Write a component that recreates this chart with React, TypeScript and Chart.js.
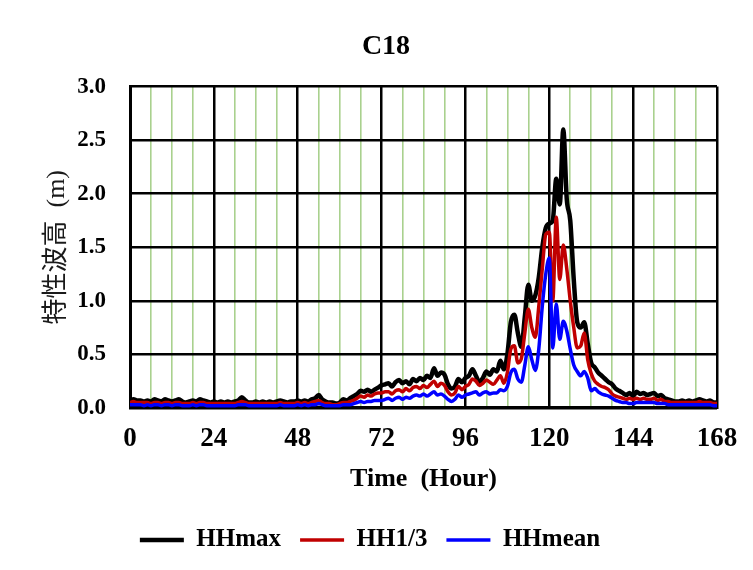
import { useEffect, useRef } from 'react';
import { Chart, registerables } from 'chart.js';

Chart.register(...registerables);

// Hourly time axis, 0–168 h
const hours: number[] = Array.from({ length: 169 }, (_, i) => i);

// Labelled hours on the time axis (minor grid every 6 h)
const majorHours = [0, 24, 48, 72, 96, 120, 144, 168];
const yTickValues = [0, 0.5, 1.0, 1.5, 2.0, 2.5, 3.0];

const hhMax = [
  0.07, 0.08, 0.07, 0.07, 0.06, 0.07, 0.06, 0.08, 0.07, 0.06, 0.08, 0.07, 0.06, 0.07, 0.08, 0.06, 0.05, 0.06, 0.07, 0.06, 0.08, 0.07, 0.06, 0.05,
  0.06, 0.05, 0.06, 0.05, 0.06, 0.05, 0.06, 0.07, 0.10, 0.07, 0.05, 0.05, 0.06, 0.05, 0.06, 0.05, 0.06, 0.05, 0.06, 0.07, 0.06, 0.05, 0.06, 0.06,
  0.07, 0.06, 0.07, 0.06, 0.08, 0.09, 0.12, 0.08, 0.06, 0.05, 0.05, 0.04, 0.05, 0.08, 0.07, 0.09, 0.11, 0.13, 0.16, 0.15, 0.17, 0.15, 0.17, 0.19,
  0.21, 0.22, 0.23, 0.20, 0.24, 0.26, 0.23, 0.25, 0.22, 0.27, 0.25, 0.28, 0.26, 0.30, 0.28, 0.37, 0.30, 0.33, 0.31, 0.22, 0.18, 0.20, 0.27, 0.24,
  0.28, 0.30, 0.36, 0.30, 0.24, 0.28, 0.34, 0.31, 0.36, 0.34, 0.44, 0.36, 0.50, 0.80, 0.87, 0.70, 0.57, 0.85, 1.15, 1.00, 1.05, 1.22, 1.50, 1.68,
  1.72, 1.75, 2.14, 1.90, 2.60, 1.95, 1.75, 1.20, 0.80, 0.75, 0.80, 0.60, 0.42, 0.38, 0.33, 0.30, 0.27, 0.24, 0.22, 0.18, 0.16, 0.14, 0.12, 0.14,
  0.11, 0.15, 0.13, 0.14, 0.12, 0.13, 0.14, 0.11, 0.12, 0.09, 0.08, 0.07, 0.06, 0.06, 0.07, 0.06, 0.07, 0.06, 0.07, 0.08, 0.07, 0.06, 0.07, 0.05, 0.05,
];

const hh13 = [
  0.05, 0.06, 0.05, 0.05, 0.05, 0.05, 0.04, 0.05, 0.05, 0.04, 0.05, 0.05, 0.04, 0.05, 0.05, 0.04, 0.04, 0.04, 0.05, 0.04, 0.05, 0.05, 0.04, 0.04,
  0.04, 0.04, 0.04, 0.04, 0.04, 0.04, 0.04, 0.05, 0.06, 0.05, 0.04, 0.04, 0.04, 0.04, 0.04, 0.04, 0.04, 0.04, 0.04, 0.05, 0.04, 0.04, 0.04, 0.04,
  0.05, 0.04, 0.05, 0.04, 0.05, 0.06, 0.07, 0.05, 0.04, 0.04, 0.03, 0.03, 0.04, 0.05, 0.05, 0.06, 0.07, 0.09, 0.11, 0.10, 0.12, 0.11, 0.13, 0.14,
  0.14, 0.15, 0.15, 0.13, 0.16, 0.17, 0.15, 0.18, 0.16, 0.19, 0.20, 0.18, 0.21, 0.19, 0.22, 0.25, 0.20, 0.23, 0.21, 0.15, 0.12, 0.14, 0.20, 0.17,
  0.20, 0.22, 0.27, 0.25, 0.21, 0.23, 0.26, 0.24, 0.22, 0.26, 0.30, 0.23, 0.33, 0.55, 0.58, 0.42, 0.46, 0.70, 0.92, 0.75, 0.66, 0.95, 1.30, 1.62,
  1.64, 1.00, 1.78, 1.20, 1.52, 1.30, 1.00, 0.75, 0.56, 0.58, 0.70, 0.45, 0.32, 0.25, 0.22, 0.20, 0.19, 0.17, 0.13, 0.11, 0.10, 0.09, 0.08, 0.09,
  0.08, 0.09, 0.08, 0.09, 0.08, 0.08, 0.09, 0.07, 0.08, 0.06, 0.06, 0.05, 0.05, 0.05, 0.05, 0.05, 0.05, 0.05, 0.05, 0.06, 0.05, 0.05, 0.05, 0.04, 0.04,
];

const hhMean = [
  0.03, 0.03, 0.03, 0.03, 0.02, 0.03, 0.02, 0.03, 0.03, 0.02, 0.03, 0.03, 0.02, 0.03, 0.03, 0.02, 0.02, 0.02, 0.03, 0.02, 0.03, 0.03, 0.02, 0.02,
  0.02, 0.02, 0.02, 0.02, 0.02, 0.02, 0.02, 0.03, 0.03, 0.03, 0.02, 0.02, 0.02, 0.02, 0.02, 0.02, 0.02, 0.02, 0.02, 0.03, 0.02, 0.02, 0.02, 0.02,
  0.03, 0.02, 0.03, 0.02, 0.03, 0.03, 0.04, 0.03, 0.02, 0.02, 0.02, 0.02, 0.02, 0.03, 0.03, 0.03, 0.04, 0.05, 0.06, 0.05, 0.06, 0.06, 0.07, 0.07,
  0.07, 0.08, 0.09, 0.07, 0.09, 0.10, 0.08, 0.10, 0.09, 0.11, 0.12, 0.11, 0.13, 0.11, 0.13, 0.15, 0.12, 0.13, 0.11, 0.08, 0.06, 0.08, 0.12, 0.10,
  0.12, 0.13, 0.14, 0.15, 0.12, 0.14, 0.15, 0.13, 0.14, 0.14, 0.17, 0.16, 0.20, 0.33, 0.36, 0.27, 0.24, 0.40, 0.57, 0.45, 0.35, 0.55, 0.95, 1.25,
  1.40, 0.56, 0.97, 0.64, 0.81, 0.72, 0.55, 0.40, 0.34, 0.30, 0.34, 0.28, 0.16, 0.18, 0.15, 0.13, 0.12, 0.11, 0.09, 0.07, 0.06, 0.05, 0.05, 0.04,
  0.04, 0.05, 0.05, 0.05, 0.05, 0.05, 0.05, 0.04, 0.04, 0.04, 0.03, 0.03, 0.03, 0.03, 0.03, 0.03, 0.03, 0.03, 0.03, 0.03, 0.03, 0.03, 0.03, 0.02, 0.02,
];

const SERIF = "'Liberation Serif', 'Times New Roman', serif";
const MINOR_GREEN = '#a9d18e';

const toPoints = (values: number[]) => values.map((y, i) => ({ x: hours[i], y }));

// Nudges the title and legend boxes sideways after layout
const boxOffsets = {
  id: 'boxOffsets',
  afterLayout(chart: any) {
    const title = chart.titleBlock;
    if (title) {
      title.left += 7;
      title.right += 7;
    }
    const legend = chart.legend;
    if (legend) {
      legend.left -= 9;
      legend.right -= 9;
    }
  },
};

export default function App() {
  const canvasRef = useRef<HTMLCanvasElement | null>(null);

  useEffect(() => {
    const canvas = canvasRef.current;
    if (!canvas) return;

    const chart = new Chart(canvas, {
      type: 'line',
      data: {
        datasets: [
          {
            label: 'HHmax',
            data: toPoints(hhMax),
            borderColor: '#000000',
            backgroundColor: '#000000',
            borderWidth: 4.5,
            order: 3,
          },
          {
            label: 'HH1/3',
            data: toPoints(hh13),
            borderColor: '#c00000',
            backgroundColor: '#c00000',
            borderWidth: 3.5,
            order: 2,
          },
          {
            label: 'HHmean',
            data: toPoints(hhMean),
            borderColor: '#0000ff',
            backgroundColor: '#0000ff',
            borderWidth: 3.5,
            order: 1,
          },
        ],
      },
      plugins: [boxOffsets],
      options: {
        responsive: false,
        animation: false,
        events: [],
        elements: {
          point: { radius: 0 },
          line: { cubicInterpolationMode: 'monotone', fill: false },
        },
        layout: { padding: { left: 5, right: 0, top: 0, bottom: 7.5 } },
        plugins: {
          title: {
            display: true,
            text: 'C18',
            color: '#000',
            font: { family: SERIF, size: 28, weight: 'bold' },
            padding: { top: 30, bottom: 23 },
          },
          legend: {
            position: 'bottom',
            labels: {
              usePointStyle: true,
              pointStyle: 'line',
              pointStyleWidth: 44,
              color: '#000',
              font: { family: SERIF, size: 25, weight: 'bold' },
              padding: 19,
              sort: (a: any, b: any) => a.datasetIndex - b.datasetIndex,
            },
          },
          tooltip: { enabled: false },
        },
        scales: {
          x: {
            type: 'linear',
            min: 0,
            max: 168,
            ticks: {
              stepSize: 6,
              autoSkip: false,
              maxRotation: 0,
              padding: 0,
              color: '#000',
              font: { family: SERIF, size: 27, weight: 'bold' },
              callback: (v: any) => (majorHours.includes(Number(v)) ? String(v) : ''),
            },
            grid: {
              drawTicks: true,
              tickLength: 15,
              tickColor: 'rgba(0,0,0,0)',
              color: (ctx: any) => (majorHours.includes(ctx.tick?.value) ? '#000' : MINOR_GREEN),
              lineWidth: (ctx: any) => (majorHours.includes(ctx.tick?.value) ? 2.5 : 1.6),
            },
            border: { display: true, color: '#000', width: 3 },
            title: {
              display: true,
              text: 'Time  (Hour)',
              color: '#000',
              font: { family: SERIF, size: 26, weight: 'bold' },
              padding: { top: 8, bottom: 14 },
            },
          },
          y: {
            type: 'linear',
            min: 0,
            max: 3,
            afterFit: (scale: any) => {
              scale.width = 125;
            },
            afterBuildTicks: (scale: any) => {
              scale.ticks = yTickValues.map((value) => ({ value }));
            },
            ticks: {
              padding: 24,
              color: '#000',
              font: { family: SERIF, size: 23, weight: 'bold' },
              callback: (v: any) => Number(v).toFixed(1),
            },
            grid: { drawTicks: false, color: '#000', lineWidth: 2.5 },
            border: { display: true, color: '#000', width: 3 },
            title: {
              display: true,
              text: '特性波高  (m)',
              color: '#1a1a1a',
              font: { family: "'Liberation Serif', 'Noto Sans CJK JP', serif", size: 26, weight: 'normal' },
              padding: { top: 37, bottom: 0 },
            },
          },
          yRight: {
            type: 'linear',
            position: 'right',
            display: true,
            afterFit: (scale: any) => {
              scale.width = 36;
            },
            ticks: { display: false },
            grid: { display: false, drawTicks: false },
            border: { display: false },
          },
        },
      },
    } as any);

    return () => {
      chart.destroy();
    };
  }, []);

  return (
    <div
      style={{
        position: 'fixed',
        left: 0,
        top: 0,
        width: 753,
        height: 570,
        background: '#ffffff',
        overflow: 'hidden',
      }}
    >
      <canvas ref={canvasRef} width={753} height={570} style={{ display: 'block', width: 753, height: 570 }} />
    </div>
  );
}
